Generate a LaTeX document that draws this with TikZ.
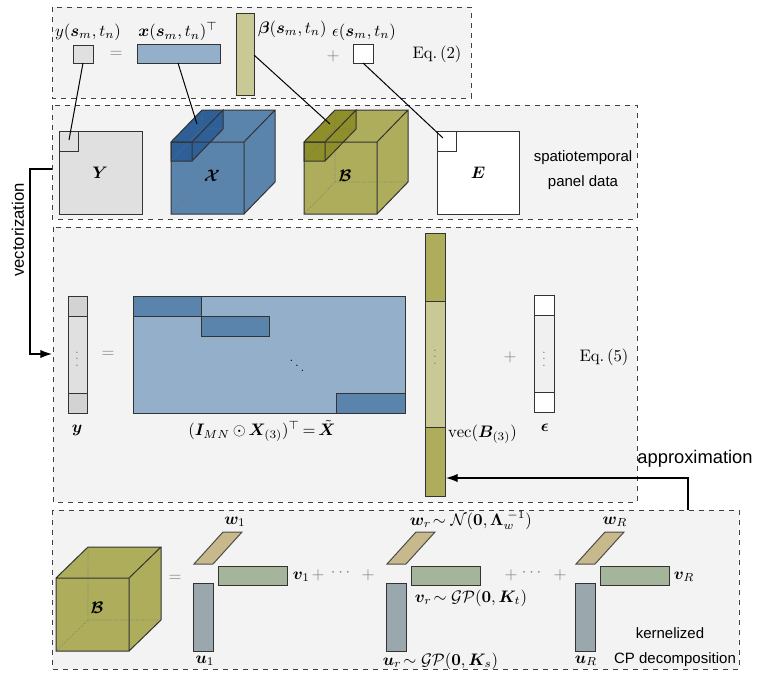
\documentclass[tikz,border=0pt]{standalone}
\usepackage{amsmath}
\usepackage{amssymb}
\usepackage{bm}
\usepackage{fontspec}
\newfontfamily\labfont{Liberation Sans}
\usetikzlibrary{arrows.meta}

\definecolor{panelgray}{HTML}{F3F3F3}
\definecolor{cellgray}{HTML}{E0E0E0}
\definecolor{cellgraydk}{HTML}{D3D3D3}
\definecolor{barblue}{HTML}{94AFC9}
\definecolor{cubeblue}{HTML}{5B84AD}
\definecolor{slabblue}{HTML}{2E5F97}
\definecolor{cubeolive}{HTML}{ADAD5C}
\definecolor{slabolive}{HTML}{8E8E2A}
\definecolor{lightolive}{HTML}{C9C996}
\definecolor{wtan}{HTML}{C8B98D}
\definecolor{vsage}{HTML}{A5B59B}
\definecolor{ugray}{HTML}{9AA8AD}
\definecolor{epsgray}{HTML}{F0F0F0}

\begin{document}
\begin{tikzpicture}[x=0.6pt, y=-0.6pt,
  panel/.style={draw=black!75, dashed, fill=panelgray},
  edge/.style={draw=black!80, line width=0.6pt},
  hid/.style={densely dotted, black!55, line width=0.4pt},
  op/.style={text=black!50},
  dots/.style={text=black!55, font=\scriptsize, inner sep=0pt},
  word/.style={font=\labfont\fontsize{9}{11}\selectfont},
  arr/.style={-{Latex[length=7pt,width=5pt]}, line width=0.7pt},
  lnk/.style={line width=0.6pt}
]
\useasboundingbox (0,0) rectangle (773,676);

% the four panels
\draw[panel] (52,7) rectangle (471,98);
\draw[panel] (52,105) rectangle (637,219);
\draw[panel] (53,227) rectangle (637,502);
\draw[panel] (52,510) rectangle (739,669);

% element-wise model, Eq. (2)
\draw[edge, fill=cellgray] (73,45) rectangle (93,63);
\draw[edge, fill=barblue] (137,44) rectangle (220,63);
\draw[edge, fill=lightolive] (236,13) rectangle (254,95);
\draw[edge, fill=white] (353,44) rectangle (373,63);
\coordinate (ysq) at (83,63);
\coordinate (xbar) at (178,63);
\coordinate (bbar) at (254,55);
\coordinate (esq) at (363,63);
\node (ylab) at (88,32) {$y(\bm{s}_m,t_n)$};
\node (xlab) at (178,32) {$\bm{x}(\bm{s}_m,t_n)^{\top}$};
\node[anchor=west, inner sep=1pt] (blab) at (256,29) {$\bm{\beta}(\bm{s}_m,t_n)$};
\node[inner sep=1pt] (elab) at (364,32) {$\epsilon(\bm{s}_m,t_n)$};
\node[op] (eq1) at (116,54) {$=$};
\node[op] (pl1) at (333,56) {$+$};
\node (eq2) at (437,54) {Eq.\,(2)};

% panel data
\draw[edge, fill=cellgray] (59,131) rectangle (142,214);
\draw[edge, fill=cellgray] (59,131) rectangle (78,151);
\node (Ylab) at (100,173) {$\bm{Y}$};
\foreach \x/\body/\slab/\nm/\lab in {171/cubeblue/slabblue/X/\mathcal{X}, 304/cubeolive/slabolive/B/\mathcal{B}} {
  \fill[\body] (\x,214) -- (\x,142) -- (\x+31,110) -- (\x+104,110) -- (\x+104,182) -- (\x+73,214) -- cycle;
  \draw[hid] (\x+31,110) -- (\x+31,182) -- (\x+104,182) (\x+31,182) -- (\x,214);
  \fill[\slab] (\x,161) -- (\x,142) -- (\x+31,110) -- (\x+52,110) -- (\x+52,129) -- (\x+21,161) -- cycle;
  \draw[hid] (\x+31,110) -- (\x+31,129) -- (\x+52,129) (\x+31,129) -- (\x,161);
  \draw[edge] (\x,142) rectangle (\x+73,214) (\x,142) -- (\x+31,110) -- (\x+104,110) -- (\x+73,142)
    (\x+104,110) -- (\x+104,182) -- (\x+73,214);
  \draw[edge] (\x,142) rectangle (\x+21,161) (\x+21,142) -- (\x+52,110) -- (\x+52,129) -- (\x+21,161);
  \coordinate (slab\nm) at (\x+26,124);
  \node (cube\nm) at (\x+41,176) {$\bm{\lab}$};
}
\draw[edge, fill=white] (437,131) rectangle (519,214);
\draw[edge, fill=white] (437,131) rectangle (456,151);
\node (Elab) at (478,173) {$\bm{E}$};
\node[word] (spt) at (583,158) {spatiotemporal};
\node[word] (pnl) at (583,183) {panel data};
\coordinate (Ysq) at (69,140);
\coordinate (Esq) at (443,138);

\draw[lnk] (ysq) -- (Ysq);
\draw[lnk] (xbar) -- (slabX);
\draw[lnk] (bbar) -- (slabB);
\draw[lnk] (esq) -- (Esq);

% vectorized model, Eq. (5)
\draw[edge, fill=cellgray] (68,296) rectangle (87,413);
\draw[edge, fill=cellgraydk] (68,296) rectangle (87,316) (68,393) rectangle (87,413);
\node[dots] (ydots) at (77,354) {$\vdots$};
\node (yvec) at (77,430) {$\bm{y}$};
\node[op] (eq3) at (108,354) {$=$};
\draw[edge, fill=barblue] (133,296) rectangle (405,413);
\draw[edge, fill=cubeblue] (133,296) rectangle (201,316) (201,316) rectangle (269,336) (336,393) rectangle (405,413);
\node[inner sep=0pt, font=\scriptsize] (ddots) at (297,361) {$\bm{\ddots}$};
\node (xtil) at (262,431) {$(\bm{I}_{MN}\,{\odot}\,\bm{X}_{(3)})^{\top}{\,=\,}\tilde{\bm{X}}$};
\draw[edge, fill=lightolive] (425,233) rectangle (445,496);
\draw[edge, fill=cubeolive] (425,233) rectangle (445,301) (425,427) rectangle (445,496);
\node[dots] (bdots) at (435,352) {$\vdots$};
\node[anchor=west, inner sep=1pt] (vecb) at (446,434) {$\mathrm{vec}(\bm{B}_{(3)})$};
\node[op] (pl2) at (510,357) {$+$};
\draw[edge, fill=epsgray] (534,295) rectangle (554,412);
\draw[edge, fill=white] (534,295) rectangle (554,315) (534,392) rectangle (554,412);
\node[dots] (edots) at (544,354) {$\vdots$};
\node (evec) at (545,428) {$\bm{\epsilon}$};
\node (eq5) at (604,357) {Eq.\,(5)};

% vectorization and approximation arrows
\coordinate (vA) at (52,169);
\coordinate (vB) at (52,354);
\node[font=\labfont\fontsize{10}{12}\selectfont, rotate=90] (vect) at (18,230) {vectorization};
\draw[arr] (vA) -- (30,169) -- (30,354) -- (vB);
\coordinate (aA) at (688,510);
\coordinate (aB) at (446,478);
\node[font=\labfont\fontsize{11}{13}\selectfont] (appr) at (695,459) {approximation};
\draw[arr] (aA) -- (688,478) -- (aB);

% kernelized CP decomposition
\fill[cubeolive] (56,651) -- (56,578) -- (88,547) -- (161,547) -- (161,620) -- (129,651) -- cycle;
\draw[hid] (88,547) -- (88,620) -- (161,620) (88,620) -- (56,651);
\draw[edge] (56,578) rectangle (129,651) (56,578) -- (88,547) -- (161,547) -- (129,578)
  (161,547) -- (161,620) -- (129,651);
\node (cubeB2) at (97,608) {$\bm{\mathcal{B}}$};
\node[op] (eq4) at (175,578) {$=$};
\foreach \dx in {0,193,382} {
  \draw[edge, draw=black!70, fill=wtan] (194+\dx,564) -- (223+\dx,532) -- (242+\dx,532) -- (213+\dx,564) -- cycle;
  \draw[edge, fill=vsage] (218+\dx,566) rectangle (287+\dx,585);
  \draw[edge, fill=ugray] (193+\dx,583) rectangle (213+\dx,651);
}
\node (w1) at (235,522) {$\bm{w}_1$};
\node[anchor=west] (v1) at (287,577) {$\bm{v}_1$};
\node (u1) at (205,661) {$\bm{u}_1$};
\node[op] (pl3) at (318,575) {$+$};
\node[op] (cd1) at (342,573) {$\cdots$};
\node[op] (pl4) at (368,575) {$+$};
\node[anchor=west] (wr) at (404,520) {$\bm{w}_r\!\sim\mathcal{N}(\bm{0},\bm{\Lambda}_w^{\;-1})$};
\node[anchor=west] (vr) at (409,598) {$\bm{v}_r\!\sim\mathcal{GP}(\bm{0},\bm{K}_t)$};
\node[anchor=west] (ur) at (377,661) {$\bm{u}_r\!\sim\mathcal{GP}(\bm{0},\bm{K}_s)$};
\node[op] (pl5) at (511,575) {$+$};
\node[op] (cd2) at (533,573) {$\cdots$};
\node[op] (pl6) at (560,575) {$+$};
\node (wR) at (615,522) {$\bm{w}_R$};
\node[anchor=west] (vR) at (668,577) {$\bm{v}_R$};
\node (uR) at (586,661) {$\bm{u}_R$};
\node[word] (kern) at (670,633) {kernelized};
\node[word] (cpd) at (675,660) {CP decomposition};
\end{tikzpicture}
\end{document}
